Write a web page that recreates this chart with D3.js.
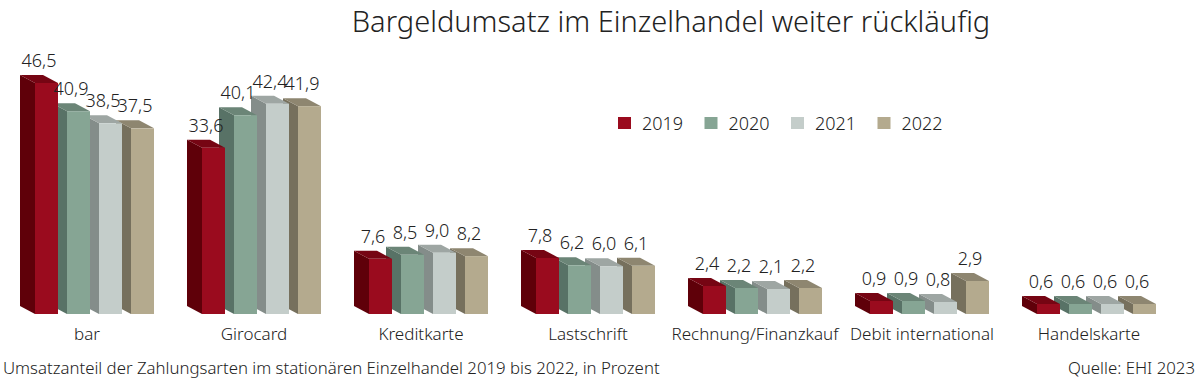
<!DOCTYPE html>
<html>
<head>
<meta charset="utf-8">
<script src="https://cdn.jsdelivr.net/npm/d3@7"></script>
<style>
  body { margin: 0; background: #fff; }
  svg { display: block; font-family: "Noto Sans", "Open Sans", sans-serif; font-weight: 300; }
</style>
</head>
<body>
<svg id="chart"></svg>
<script>
// data
const categories = ["bar", "Girocard", "Kreditkarte", "Lastschrift", "Rechnung/Finanzkauf", "Debit international", "Handelskarte"];
const years = ["2019", "2020", "2021", "2022"];
const v2019 = [46.5, 33.6, 7.6, 7.8, 2.4, 0.9, 0.6];
const v2020 = [40.9, 40.1, 8.5, 6.2, 2.2, 0.9, 0.6];
const v2021 = [38.5, 42.4, 9.0, 6.0, 2.1, 0.8, 0.6];
const v2022 = [37.5, 41.9, 8.2, 6.1, 2.2, 2.9, 0.6];
const series = [v2019, v2020, v2021, v2022];

// front / side / top shades per year
const colors = {
  "2019": {front: "#9a0b1e", side: "#5f0009", top: "#760513"},
  "2020": {front: "#86a594", side: "#587266", top: "#6b8577"},
  "2021": {front: "#c4cdca", side: "#848d8a", top: "#9ea6a3"},
  "2022": {front: "#b4aa8e", side: "#76705d", top: "#8e8670"}
};

const width = 1200, height = 381;
const baseY = 314;
const dx = -15, dy = -8; // depth offset

const svg = d3.select("#chart").attr("width", width).attr("height", height);

const x0 = d3.scaleBand().domain(categories).range([35, 1156]).paddingInner(48/167).paddingOuter(0);
const x1 = d3.scaleBand().domain(years).range([0, x0.bandwidth()]).paddingInner(9/32).paddingOuter(0);
// the picture stretches the small bars, so a piecewise scale
const h = d3.scaleLinear().domain([0, 3, 8, 34, 46.5]).range([4, 34, 57, 168, 231]);

const fmt = v => d3.format(".1f")(v).replace(".", ",");

// title
svg.append("text")
  .attr("x", 671).attr("y", 32)
  .attr("text-anchor", "middle")
  .style("font-size", "29px").style("fill", "#222")
  .text("Bargeldumsatz im Einzelhandel weiter rückläufig");

const rows = [];
categories.forEach((c, ci) => {
  // right to left so left boxes cover neighbours' side faces
  for (let yi = years.length - 1; yi >= 0; yi--) {
    rows.push({cat: c, year: years[yi], value: series[yi][ci]});
  }
});

const bars = svg.append("g").selectAll("g.box")
  .data(rows)
  .join("g").attr("class", "box");

bars.each(function(d) {
  const g = d3.select(this);
  const xl = x0(d.cat) + x1(d.year);
  const w = x1.bandwidth();
  const top = baseY - h(d.value);
  const col = colors[d.year];
  // side face
  g.append("polygon")
    .attr("points", [[xl, top], [xl + dx, top + dy], [xl + dx, baseY + dy], [xl, baseY]].join(" "))
    .attr("fill", col.side);
  // top face
  g.append("polygon")
    .attr("points", [[xl, top], [xl + dx, top + dy], [xl + w + dx, top + dy], [xl + w, top]].join(" "))
    .attr("fill", col.top);
  // front face
  g.append("rect")
    .attr("x", xl).attr("y", top)
    .attr("width", w).attr("height", baseY - top)
    .attr("fill", col.front);
});

// value labels on top of everything
svg.append("g").selectAll("text")
  .data(rows)
  .join("text")
  .attr("x", d => x0(d.cat) + x1(d.year) + (x1.bandwidth() + dx) / 2)
  .attr("y", d => baseY - h(d.value) + dy - 8)
  .attr("text-anchor", "middle")
  .style("font-size", "18px").style("fill", "#222")
  .text(d => fmt(d.value));

// category labels
svg.append("g").selectAll("text")
  .data(categories)
  .join("text")
  .attr("x", d => x0(d) + (x0.bandwidth() + dx) / 2)
  .attr("y", 340)
  .attr("text-anchor", "middle")
  .style("font-size", "17px").style("fill", "#222")
  .text(d => d);

// legend
const legend = svg.append("g").selectAll("g")
  .data(years)
  .join("g")
  .attr("transform", (d, i) => `translate(${618 + i * 86.5},117)`);
legend.append("rect")
  .attr("width", 13).attr("height", 12)
  .attr("fill", d => colors[d].front);
legend.append("text")
  .attr("x", 24).attr("y", 12.5)
  .style("font-size", "18px").style("fill", "#222")
  .text(d => d);

// footer
svg.append("text")
  .attr("x", 3).attr("y", 374)
  .style("font-size", "16.8px").style("fill", "#222")
  .text("Umsatzanteil der Zahlungsarten im stationären Einzelhandel 2019 bis 2022, in Prozent");
svg.append("text")
  .attr("x", 1195).attr("y", 374)
  .attr("text-anchor", "end")
  .style("font-size", "16.8px").style("fill", "#222")
  .text("Quelle: EHI 2023");
</script>
</body>
</html>
